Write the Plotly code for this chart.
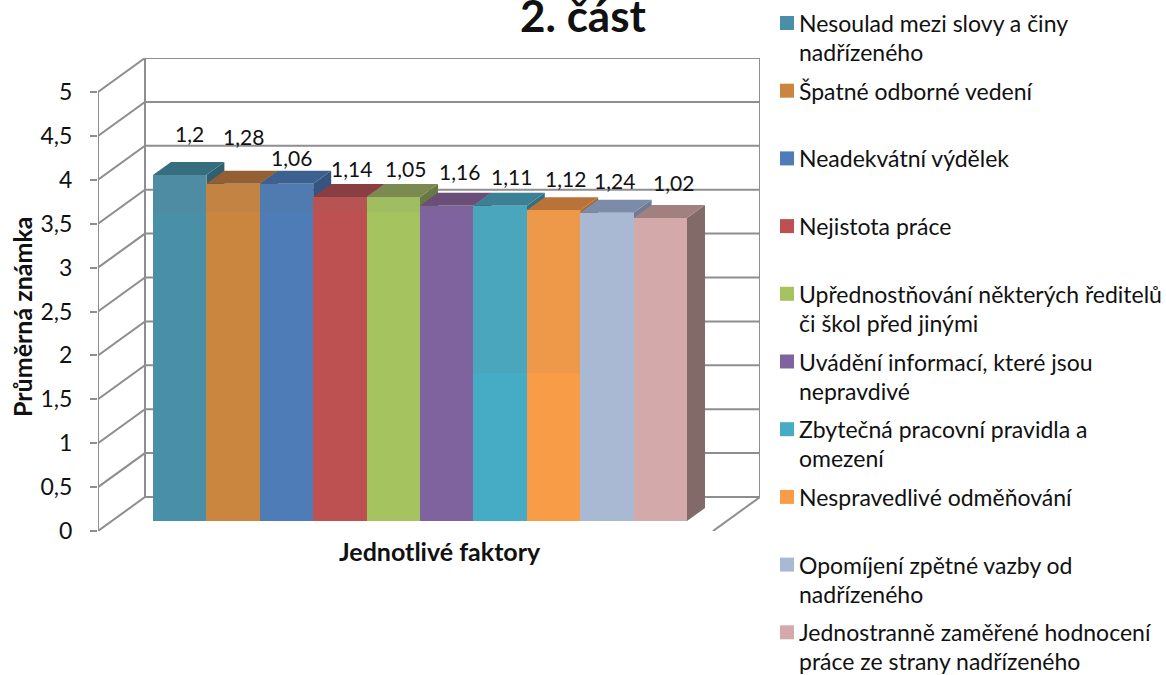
import plotly.graph_objects as go

# ---- data ----
categories = ["Nesoulad mezi slovy a činy<br>nadřízeného", "Špatné odborné vedení", "Neadekvátní výdělek",
              "Nejistota práce", "Upřednostňování některých ředitelů<br>či škol před jinými",
              "Uvádění informací, které jsou<br>nepravdivé", "Zbytečná pracovní pravidla a<br>omezení",
              "Nespravedlivé odměňování", "Opomíjení zpětné vazby od<br>nadřízeného",
              "Jednostranně zaměřené hodnocení<br>práce ze strany nadřízeného"]
bar_heights = [3.94, 3.84, 3.84, 3.69, 3.69, 3.59, 3.59, 3.54, 3.51, 3.45]
value_labels = ["1,2", "1,28", "1,06", "1,14", "1,05", "1,16", "1,11", "1,12", "1,24", "1,02"]
y_ticks = [0, 0.5, 1, 1.5, 2, 2.5, 3, 3.5, 4, 4.5, 5]
y_tick_text = ["0", "0,5", "1", "1,5", "2", "2,5", "3", "3,5", "4", "4,5", "5"]

# ---- styles ----
front_colors = ["#4A8FA8", "#CA853F", "#4D7CB7", "#BD5151", "#A5C460", "#7F639E", "#46ABC4", "#F99C47", "#A9B9D4", "#D3AAA9"]
top_colors = ["#366E80", "#945F33", "#3C6190", "#8A3E42", "#7A8A50", "#6A4D78", "#3C8095", "#B97339", "#7C8BA8", "#A28080"]
side_colors = ["#2F6070", "#80522C", "#35547F", "#7A3539", "#6A7845", "#5A4266", "#336F82", "#A9692F", "#6C7C95", "#826A69"]
label_dx = [10, 10, 5, 12, 12, 13, 11, 12, 8, 13]
label_dy = [42, 47, 26, 29, 29, 34, 29, 32, 32, 36]
shade_floor = [3.63, 3.63, 3.63, 3.63, 3.63, 3.63, 1.8, 1.8]
GRID = "#8E8E92"
FONT = "Lato"
W, H = 1166, 675

# ---- pixel layout of the plot box ----
L, R, T, B = 98, 760, 58, 531
px_per_cat = 53.4
px_per_unit = 87.8
x_min = -0.5 - (153 - L) / px_per_cat
x_max = -0.5 + (R - 153) / px_per_cat
y_max = (B - T) / px_per_unit
wall_dx = 47 / px_per_cat
wall_dy = 34 / px_per_unit
bar_dx = 18 / px_per_cat
bar_dy = 13 / px_per_unit
bar_base = 10 / px_per_unit
idx = list(range(len(categories)))

fig = go.Figure()

# 3D frame
fx, fy = [], []
for v in y_ticks:
    fx += [x_min, x_min + wall_dx, x_max, None]
    fy += [v, v + wall_dy, v + wall_dy, None]
fx += [x_min, x_min, None, x_min + wall_dx, x_min + wall_dx, None, x_max, x_max, None, x_max - wall_dx, x_max]
fy += [0, 5, None, wall_dy, 5 + wall_dy, None, wall_dy, 5 + wall_dy, None, 0, wall_dy]
fig.add_trace(go.Scatter(x=fx, y=fy, mode="lines", line=dict(color=GRID, width=2), cliponaxis=False,
                         hoverinfo="skip", showlegend=False))

# top and side faces of the columns
for i, h in zip(idx, bar_heights):
    a, b = i - 0.5, i + 0.5
    tp = h + bar_base
    fig.add_trace(go.Scatter(x=[b, b + bar_dx, b + bar_dx, b, b], y=[bar_base, bar_base + bar_dy, tp + bar_dy, tp, bar_base],
                             mode="lines", fill="toself", fillcolor=side_colors[i], line=dict(width=0),
                             hoverinfo="skip", showlegend=False))
    fig.add_trace(go.Scatter(x=[a, b, b + bar_dx, a + bar_dx, a], y=[tp, tp, tp + bar_dy, tp + bar_dy, tp],
                             mode="lines", fill="toself", fillcolor=top_colors[i], line=dict(width=0),
                             hoverinfo="skip", showlegend=False))

# front faces on an overlaying subplot, so they sit above the faces behind them
fig.add_trace(go.Bar(x=idx, y=bar_heights, base=bar_base, width=1, marker=dict(color=front_colors, line=dict(width=0)),
                     xaxis="x2", yaxis="y2", showlegend=False))
# the reference's faint darker bands on the upper parts of some columns
shade_x = idx[:len(shade_floor)]
fig.add_trace(go.Bar(x=shade_x, y=[h + bar_base - f for h, f in zip(bar_heights, shade_floor)], base=shade_floor, width=1,
                     marker=dict(color="rgba(110,110,120,0.08)", line=dict(width=0)),
                     xaxis="x2", yaxis="y2", showlegend=False, hoverinfo="skip"))

fig.update_layout(
    width=W, height=H, autosize=False, paper_bgcolor="white", plot_bgcolor="white",
    margin=dict(l=L, r=W - R, t=T, b=H - B, pad=0),
    font=dict(family=FONT, size=21, color="#111111"),
    barmode="overlay", bargap=0,
    xaxis=dict(range=[x_min, x_max], visible=False, fixedrange=True),
    yaxis=dict(range=[0, y_max], tickvals=y_ticks, ticktext=y_tick_text, ticks="outside", ticklen=7, tickwidth=2,
               tickcolor=GRID, showgrid=False, zeroline=False, showline=False, ticklabelstandoff=13,
               tickfont=dict(family=FONT, size=23, color="#111111"), fixedrange=True),
    xaxis2=dict(range=[x_min, x_max], visible=False, overlaying="x", fixedrange=True),
    yaxis2=dict(range=[0, y_max], visible=False, overlaying="y", fixedrange=True),
)

def px(x):
    return (x - L) / (R - L)
def py(y):
    return (B - y) / (B - T)

anns = []
def text(x, y, s, size=21, bold=False, anchor="center", angle=0):
    anns.append(dict(x=px(x), y=py(y), xref="paper", yref="paper", text=f"<b>{s}</b>" if bold else s, showarrow=False,
                     xanchor=anchor, yanchor="middle", textangle=angle, font=dict(family=FONT, size=size, color="#111111")))

text(583, 15, "2. část", size=44, bold=True)
text(22, 317, "Průměrná známka", size=25, bold=True, angle=-90)
text(440, 551, "Jednotlivé faktory", size=25, bold=True)

# value labels
for i, h, lab, dx, dy in zip(idx, bar_heights, value_labels, label_dx, label_dy):
    anns.append(dict(x=i, y=h + bar_base, xref="x2", yref="y2", text=lab, showarrow=False, xshift=dx, yshift=dy,
                     xanchor="center", yanchor="middle", font=dict(family=FONT, size=21, color="#111111")))

# legend
shapes = []
for i, cat in enumerate(categories):
    yc = 23 + 67.7 * i
    shapes.append(dict(type="rect", xref="paper", yref="paper", x0=px(780), x1=px(794), y0=py(yc - 7), y1=py(yc + 7),
                       fillcolor=front_colors[i], line=dict(width=0)))
    for j, line in enumerate(cat.split("<br>")):
        text(797, yc + 29 * j, line, size=23, anchor="left")

fig.update_layout(annotations=anns, shapes=shapes)
fig.write_html("out.html", config=dict(displayModeBar=False),
               post_script="document.body.style.margin='0';document.documentElement.style.overflow='hidden';")
